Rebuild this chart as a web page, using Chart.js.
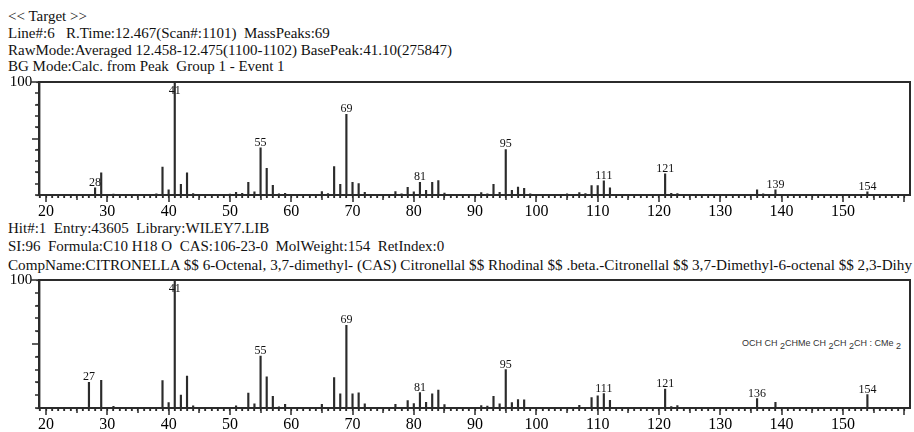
<!DOCTYPE html>
<html>
<head>
<meta charset="utf-8">
<script src="https://cdn.jsdelivr.net/npm/chart.js@4/dist/chart.umd.min.js"></script>
<style>
  html, body { margin: 0; padding: 0; background: #fff; }
  #page { position: relative; width: 914px; height: 432px; overflow: hidden; font-family: "Liberation Serif", "Times New Roman", serif; color: #111; }
  .txt { position: absolute; left: 8px; font-size: 15px; line-height: 17px; white-space: nowrap; }
  canvas { position: absolute; left: 0; }
  #formula { position: absolute; left: 742px; top: 338px; font-family: "Liberation Sans", Arial, sans-serif; font-size: 9px; color: #333; white-space: nowrap; }
  #formula sub { font-size: 9px; vertical-align: -3px; line-height: 0; }
</style>
</head>
<body>
<div id="page">
  <div class="txt" style="top:8px">&lt;&lt; Target &gt;&gt;</div>
  <div class="txt" style="top:25px">Line#:6&nbsp;&nbsp; R.Time:12.467(Scan#:1101)&nbsp; MassPeaks:69</div>
  <div class="txt" style="top:42px">RawMode:Averaged 12.458-12.475(1100-1102) BasePeak:41.10(275847)</div>
  <div class="txt" style="top:58px">BG Mode:Calc. from Peak&nbsp; Group 1 - Event 1</div>
  <div class="txt" style="top:220px">Hit#:1&nbsp; Entry:43605&nbsp; Library:WILEY7.LIB</div>
  <div class="txt" style="top:238px">SI:96&nbsp; Formula:C10 H18 O&nbsp; CAS:106-23-0&nbsp; MolWeight:154&nbsp; RetIndex:0</div>
  <div class="txt" id="comp" style="top:257px; transform-origin: 0 0;">CompName:CITRONELLA $$ 6-Octenal, 3,7-dimethyl- (CAS) Citronellal $$ Rhodinal $$ .beta.-Citronellal $$ 3,7-Dimethyl-6-octenal $$ 2,3-Dihy</div>
  <div id="formula">OCH CH<sub> 2</sub>CHMe CH<sub> 2</sub>CH<sub> 2</sub>CH : CMe<sub> 2</sub></div>
  <canvas id="top" width="914" height="151" style="top:69px"></canvas>
  <canvas id="bottom" width="914" height="166" style="top:267px"></canvas>
</div>
<script>
// target spectrum (m/z, relative intensity %)
var targetMz = [28, 29, 31, 38, 39, 40, 41, 42, 43, 44, 50, 51, 52, 53, 54, 55, 56, 57, 58, 59,
    65, 66, 67, 68, 69, 70, 71, 72, 77, 78, 79, 80, 81, 82, 83, 84, 85,
    91, 92, 93, 94, 95, 96, 97, 98, 99, 105, 107, 108, 109, 110, 111, 112,
    121, 122, 123, 136, 137, 139, 154];
var targetInt = [6.4, 19.7, 0.8, 1, 24.8, 4.5, 100, 9.4, 19.7, 1.2, 0.8, 2.4, 1.5, 11.2, 2.7, 41.8, 23.6, 8.5, 1, 1.5,
    3, 1.2, 25.2, 9.4, 71.5, 11.2, 10, 2.4, 3, 1, 6.7, 2.7, 11.2, 4.2, 11.2, 12.7, 1.8,
    2.1, 1, 9.4, 2.4, 40.3, 4.2, 6.9, 5.9, 1, 1, 2.1, 1.2, 8.4, 8.4, 12.5, 6.3,
    18.7, 1.5, 1.2, 4.6, 1, 4.5, 2.8];
var targetLabels = [28, 41, 55, 69, 81, 95, 111, 121, 139, 154];

// library hit spectrum
var libMz = [27, 29, 31, 39, 40, 41, 42, 43, 44, 51, 53, 54, 55, 56, 57, 58, 59,
    65, 67, 68, 69, 70, 71, 72, 77, 79, 80, 81, 82, 83, 84, 85,
    91, 92, 93, 94, 95, 96, 97, 98, 107, 109, 110, 111, 112,
    121, 122, 123, 136, 139, 154];
var libInt = [20, 21.6, 1.3, 21.4, 4.2, 100, 10, 25, 1.6, 1.6, 11.6, 3.2, 40.6, 24.3, 9.2, 1, 2.9,
    2.9, 23.7, 11, 64.6, 11, 11.9, 3.2, 2.9, 5.8, 3.4, 12.1, 4.5, 11, 14, 2.6,
    1.8, 1.5, 9.2, 3.2, 30, 4.2, 6.6, 6.3, 2.1, 8.2, 9.5, 11.3, 6,
    14.8, 1.2, 1.8, 7.4, 4.5, 10.4];
var libLabels = [27, 41, 55, 69, 81, 95, 111, 121, 136, 154];

var xLabelled = [20, 30, 40, 50, 60, 70, 80, 90, 100, 110, 120, 130, 140, 150];

var serif = '"Liberation Serif", "Times New Roman", serif';
var ink = '#2b2b2b';
var xMin = 18.9, xMax = 160.95;

// closed box plus longer marks at every 5th / 10th mass and at 50 / 100 %
var frameTicks = {
    id: 'frameTicks',
    afterDraw: function (chart) {
        var ctx = chart.ctx, a = chart.chartArea, x = chart.scales.x, y = chart.scales.y;
        var L = Math.round(a.left), R = Math.round(a.right), T = Math.round(a.top), B = Math.round(a.bottom);
        ctx.save();
        ctx.fillStyle = ink;
        ctx.fillRect(L - 1, T - 1, R - L + 1, 2);
        ctx.fillRect(R - 1, T - 1, 2, B - T + 2);
        ctx.fillRect(L - 1, B - 1, R - L + 1, 2);
        ctx.fillRect(L - 1, T - 1, 2, B - T + 2);
        for (var m = Math.ceil(xMin); m <= 160; m++) {
            var px = Math.round(x.getPixelForValue(m));
            var len = m % 10 === 0 ? 7 : (m % 5 === 0 ? 5 : 3);
            ctx.fillRect(px - 0.75, B, 1.5, len);
        }
        for (var v = 0; v <= 100; v += 10) {
            var py = Math.round(y.getPixelForValue(v));
            var l = v === 100 ? 7 : (v === 50 ? 6 : 3);
            ctx.fillRect(L - 1 - l, py - 0.75, l, 1.5);
        }
        ctx.restore();
    }
};

var peakLabels = {
    id: 'peakLabels',
    afterDatasetsDraw: function (chart, args, opts) {
        var ctx = chart.ctx, a = chart.chartArea;
        var meta = chart.getDatasetMeta(0);
        var ds = chart.data.datasets[0].data;
        ctx.save();
        ctx.font = '12px ' + serif;
        ctx.fillStyle = '#111';
        ctx.textAlign = 'center';
        ctx.textBaseline = 'alphabetic';
        meta.data.forEach(function (bar, i) {
            if (opts.masses.indexOf(ds[i].x) < 0) return;
            var ty = Math.max(bar.y - 2, a.top + 12);
            ctx.fillText(String(ds[i].x), bar.x, ty);
        });
        ctx.restore();
    }
};

var edge = { display: true, color: ink, width: 1.4 };
var hidden = { display: false, drawTicks: false };

function spectrum(id, mz, inten, labels) {
    var pts = mz.map(function (m, i) { return { x: m, y: inten[i] }; });
    return new Chart(document.getElementById(id), {
        type: 'bar',
        data: {
            datasets: [{
                data: pts,
                backgroundColor: ink,
                barThickness: 1.5,
                grouped: false
            }]
        },
        options: {
            responsive: false,
            animation: false,
            devicePixelRatio: 1,
            layout: { padding: { top: 3, right: 4, left: 0, bottom: 0 } },
            plugins: {
                legend: { display: false },
                tooltip: { enabled: false },
                peakLabels: { masses: labels }
            },
            scales: {
                x: {
                    type: 'linear',
                    offset: false,
                    min: xMin,
                    max: xMax,
                    grid: { display: true, drawOnChartArea: false, drawTicks: true, tickLength: 3, tickColor: ink, tickWidth: 1.2, offset: false },
                    border: edge,
                    afterBuildTicks: function (s) {
                        var t = [];
                        for (var m = 19; m <= 160; m++) t.push({ value: m });
                        s.ticks = t;
                    },
                    afterFit: function (s) { s.height = 25; },
                    ticks: {
                        autoSkip: false,
                        maxRotation: 0,
                        padding: 4,
                        color: '#000',
                        font: { family: serif, size: 16 },
                        callback: function (v) { return xLabelled.indexOf(v) >= 0 ? String(v) : ''; }
                    }
                },
                x2: {
                    type: 'linear',
                    position: 'top',
                    min: xMin,
                    max: xMax,
                    grid: hidden,
                    border: edge,
                    ticks: { display: false }
                },
                y: {
                    min: 0,
                    max: 100,
                    grid: { display: true, drawOnChartArea: false, drawTicks: true, tickLength: 3, tickColor: ink, tickWidth: 1.2 },
                    border: edge,
                    afterBuildTicks: function (s) {
                        var t = [];
                        for (var v = 0; v <= 100; v += 10) t.push({ value: v });
                        s.ticks = t;
                    },
                    afterFit: function (s) { s.width = 39.3; },
                    ticks: {
                        padding: 4,
                        color: '#000',
                        font: { family: serif, size: 15 },
                        callback: function (v) { return v === 100 ? '100' : ''; }
                    }
                },
                y2: {
                    position: 'right',
                    min: 0,
                    max: 100,
                    grid: hidden,
                    border: edge,
                    ticks: { display: false }
                }
            }
        },
        plugins: [frameTicks, peakLabels]
    });
}

spectrum('top', targetMz, targetInt, targetLabels);
spectrum('bottom', libMz, libInt, libLabels);

// stretch the clipped compound line to the page edge like the printout
var comp = document.getElementById('comp');
comp.style.transform = 'scaleX(' + (904 / comp.getBoundingClientRect().width) + ')';
</script>
</body>
</html>
